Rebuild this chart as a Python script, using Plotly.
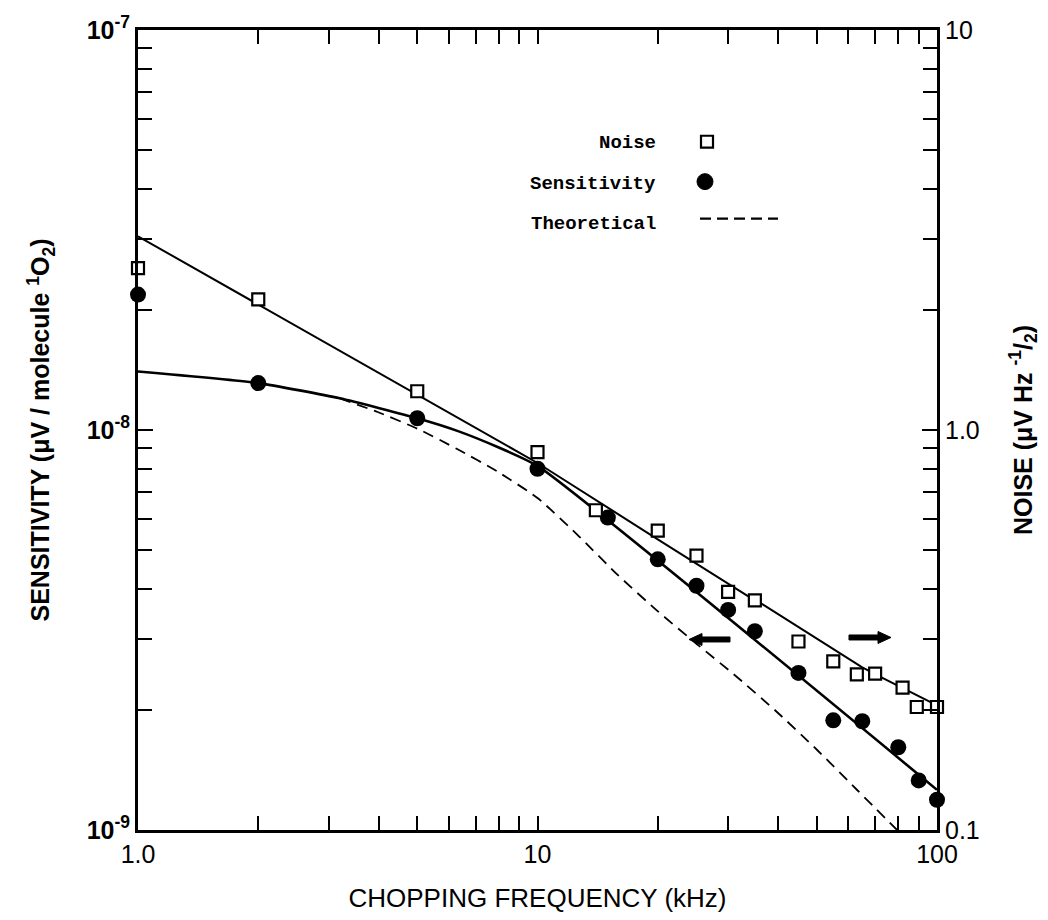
import plotly.graph_objects as go
import numpy as np

# ---- data ----
noise_freq = [1, 2, 5, 10, 14, 20, 25, 30, 35, 45, 55, 63, 70, 82, 89, 100]
noise_val = [2.54, 2.12, 1.25, 0.88, 0.63, 0.56, 0.485, 0.394, 0.375, 0.296,
             0.264, 0.245, 0.246, 0.227, 0.203, 0.203]

sens_freq = [1, 2, 5, 10, 15, 20, 25, 30, 35, 45, 55, 65, 80, 90, 100]
sens_val = [2.18e-8, 1.31e-8, 1.07e-8, 8.0e-9, 6.04e-9, 4.75e-9, 4.08e-9, 3.55e-9,
            3.14e-9, 2.47e-9, 1.88e-9, 1.87e-9, 1.61e-9, 1.33e-9, 1.19e-9]

noise_fit_freq = [1, 10, 20, 33.4, 36.7, 65, 73, 100]
noise_fit_val = [3.05, 0.827, 0.533, 0.386, 0.366, 0.255, 0.240, 0.205]

sens_fit_freq = [1, 2, 3.2, 5, 6.3, 8, 10, 100]
sens_fit_val = [1.40e-8, 1.31e-8, 1.20e-8, 1.07e-8, 9.95e-9, 9.04e-9, 8.13e-9, 1.26e-9]

theo_freq = [3.2, 3.98, 5.01, 6.31, 7.94, 10, 12.59, 15.85, 19.95, 25.12, 31.62,
             39.81, 50.12, 63.1, 79.43]
theo_val = [1.199e-8, 1.109e-8, 1.007e-8, 8.95e-9, 7.87e-9, 6.76e-9, 5.47e-9, 4.35e-9,
            3.53e-9, 2.91e-9, 2.41e-9, 1.97e-9, 1.585e-9, 1.259e-9, 1.0e-9]

x_tick_vals = [1, 10, 100]
x_tick_text = ["1.0", "10", "100"]
yl_tick_vals = [1e-9, 1e-8, 1e-7]
yl_tick_text = ["10<sup>-9</sup>", "10<sup>-8</sup>", "10<sup>-7</sup>"]
yr_tick_vals = [0.1, 1, 10]
yr_tick_text = ["0.1", "1.0", "10"]

legend_labels = ["Noise", "Sensitivity", "Theoretical"]


def minor_vals(lo_exp, hi_exp):
    return [m * 10.0 ** e for e in range(lo_exp, hi_exp) for m in range(2, 10)]


BLACK = "black"
fig = go.Figure()

fig.add_trace(go.Scatter(x=theo_freq, y=theo_val, mode="lines",
                         line=dict(color=BLACK, width=1.8, dash="11px,7px", shape="spline",
                                   smoothing=0.6),
                         yaxis="y", showlegend=False))
fig.add_trace(go.Scatter(x=sens_fit_freq, y=sens_fit_val, mode="lines",
                         line=dict(color=BLACK, width=2.6, shape="spline", smoothing=0.5),
                         yaxis="y", showlegend=False))
fig.add_trace(go.Scatter(x=noise_fit_freq, y=noise_fit_val, mode="lines",
                         line=dict(color=BLACK, width=2.0), yaxis="y2", showlegend=False))
fig.add_trace(go.Scatter(x=noise_freq, y=noise_val, mode="markers", cliponaxis=False,
                         marker=dict(symbol="square", size=12, color="white",
                                     line=dict(width=2.2, color=BLACK)),
                         yaxis="y2", showlegend=False))
fig.add_trace(go.Scatter(x=sens_freq, y=sens_val, mode="markers", cliponaxis=False,
                         marker=dict(symbol="circle", size=16, color=BLACK),
                         yaxis="y", showlegend=False))

axis_font = dict(family="Liberation Sans, Arial", size=25, color=BLACK, weight="bold")
minor_common = dict(ticks="inside", ticklen=14, tickwidth=1.6, tickcolor=BLACK, showgrid=False)

fig.update_layout(
    width=1048, height=920,
    margin=dict(l=138, r=111, t=28, b=90),
    paper_bgcolor="white", plot_bgcolor="white",
    xaxis=dict(type="log", range=[0, 2], tickmode="array", tickvals=x_tick_vals,
               ticktext=x_tick_text,
               ticks="inside", ticklen=14, tickwidth=1.6, tickcolor=BLACK,
               minor=dict(tickmode="array", tickvals=minor_vals(0, 2), **minor_common),
               showline=True, linewidth=3, linecolor=BLACK, mirror="ticks",
               showgrid=False, zeroline=False,
               tickfont=dict(family="Liberation Sans, Arial", size=25, color=BLACK),
               title=dict(text="CHOPPING FREQUENCY (kHz)", standoff=22,
                          font=dict(family="Liberation Sans, Arial", size=26, color=BLACK))),
    yaxis=dict(type="log", range=[-9, -7], tickmode="array", tickvals=yl_tick_vals,
               ticktext=yl_tick_text,
               ticks="inside", ticklen=15, tickwidth=1.6, tickcolor=BLACK,
               minor=dict(tickmode="array", tickvals=minor_vals(-9, -7), **minor_common),
               showline=True, linewidth=3, linecolor=BLACK,
               showgrid=False, zeroline=False, tickfont=axis_font,
               title=dict(text="<b>SENSITIVITY (μV / molecule <sup>1</sup>O<sub>2</sub>)</b>",
                          standoff=30,
                          font=dict(family="Liberation Sans, Arial", size=25, color=BLACK))),
    yaxis2=dict(type="log", range=[-1, 1], overlaying="y", side="right",
                tickmode="array", tickvals=yr_tick_vals, ticktext=yr_tick_text,
                ticks="inside", ticklen=15, tickwidth=1.6, tickcolor=BLACK,
                minor=dict(tickmode="array", tickvals=minor_vals(-1, 1), **minor_common),
                showline=True, linewidth=3, linecolor=BLACK,
                showgrid=False, zeroline=False,
                tickfont=dict(family="Liberation Sans, Arial", size=25, color=BLACK),
                title=dict(text="<b>NOISE (μV Hz <sup>-1</sup>/<sub>2</sub>)</b>", standoff=36,
                           font=dict(family="Liberation Sans, Arial", size=25, color=BLACK))),
)

# legend (drawn inside the plot as in the original)
W, H = 799.0, 802.0


def px(x):
    return (x - 138) / W


def py(y):
    return (830 - y) / H


leg_font = dict(family="Liberation Mono, Courier New, monospace", size=19, color=BLACK)
for lbl, yy in zip(legend_labels, [141, 182, 222]):
    fig.add_annotation(x=px(658), y=py(yy), xref="paper", yref="paper", text=f"<b>{lbl}</b>",
                       showarrow=False, xanchor="right", yanchor="middle", font=leg_font)

fig.add_shape(type="rect", xref="paper", yref="paper",
              x0=px(701), x1=px(713), y0=py(146), y1=py(134),
              line=dict(color=BLACK, width=2.2), fillcolor="white")
fig.add_shape(type="circle", xref="paper", yref="paper",
              x0=px(697), x1=px(713), y0=py(188), y1=py(172),
              line=dict(color=BLACK, width=1), fillcolor=BLACK)
fig.add_shape(type="line", xref="paper", yref="paper",
              x0=px(700), x1=px(778), y0=py(217), y1=py(217),
              line=dict(color=BLACK, width=2.2, dash="11px,6px"))


# arrows indicating which axis each curve belongs to (drawn as shapes)
def arrow_path(x_tail, x_tip, yc, shaft=5.0, head_len=13.0, head_half=6.0):
    d = 1 if x_tip > x_tail else -1
    xb = x_tip - d * head_len
    pts = [(x_tail, yc - shaft / 2), (xb, yc - shaft / 2), (xb, yc - head_half),
           (x_tip, yc), (xb, yc + head_half), (xb, yc + shaft / 2), (x_tail, yc + shaft / 2)]
    return "M " + " L ".join(f"{px(a):.5f},{py(b):.5f}" for a, b in pts) + " Z"


fig.add_shape(type="path", xref="paper", yref="paper", path=arrow_path(730, 689, 639),
              fillcolor=BLACK, line=dict(color=BLACK, width=1))
fig.add_shape(type="path", xref="paper", yref="paper", path=arrow_path(849, 891, 637),
              fillcolor=BLACK, line=dict(color=BLACK, width=1))

fig.write_html("out.html")
